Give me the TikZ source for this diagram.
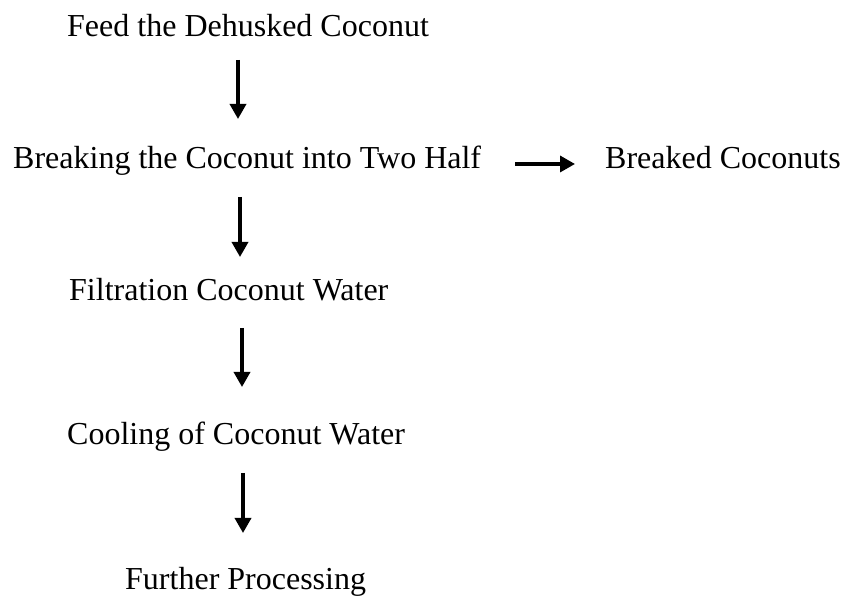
\documentclass[tikz,border=0pt]{standalone}
\usepackage{fontspec}
\setmainfont{Liberation Serif}
\usepackage{tikz}
\usetikzlibrary{arrows.meta}

\begin{document}
\begin{tikzpicture}[x=1pt,y=1pt,
  stage/.style={anchor=base west,inner sep=0pt,font=\fontsize{32}{38}\selectfont},
  flow/.style={line width=3.4pt,-{Triangle[width=16pt,length=15pt]}}]
\useasboundingbox (0,0) rectangle (844,596);

% Steps
\node[stage] (feed) at (67,559) {Feed the Dehusked Coconut};
\node[stage] (breaking) at (13,427) {Breaking the Coconut into Two Half};
\node[stage] (breaked) at (605,427) {Breaked Coconuts};
\node[stage] (filtration) at (69,295) {Filtration Coconut Water};
\node[stage] (cooling) at (67,151) {Cooling of Coconut Water};
\node[stage] (further) at (125,6) {Further Processing};

% Arrows
\draw[flow] ([shift={(171,-23)}]feed.base west) -- ([shift={(225,50)}]breaking.base west);
\draw[flow] ([shift={(502,5)}]breaking.base west) -- ([shift={(-30,5)}]breaked.base west);
\draw[flow] ([shift={(227,-28)}]breaking.base west) -- ([shift={(171,44)}]filtration.base west);
\draw[flow] ([shift={(173,-27)}]filtration.base west) -- ([shift={(175,58)}]cooling.base west);
\draw[flow] ([shift={(176,-28)}]cooling.base west) -- ([shift={(118,57)}]further.base west);
\end{tikzpicture}
\end{document}
